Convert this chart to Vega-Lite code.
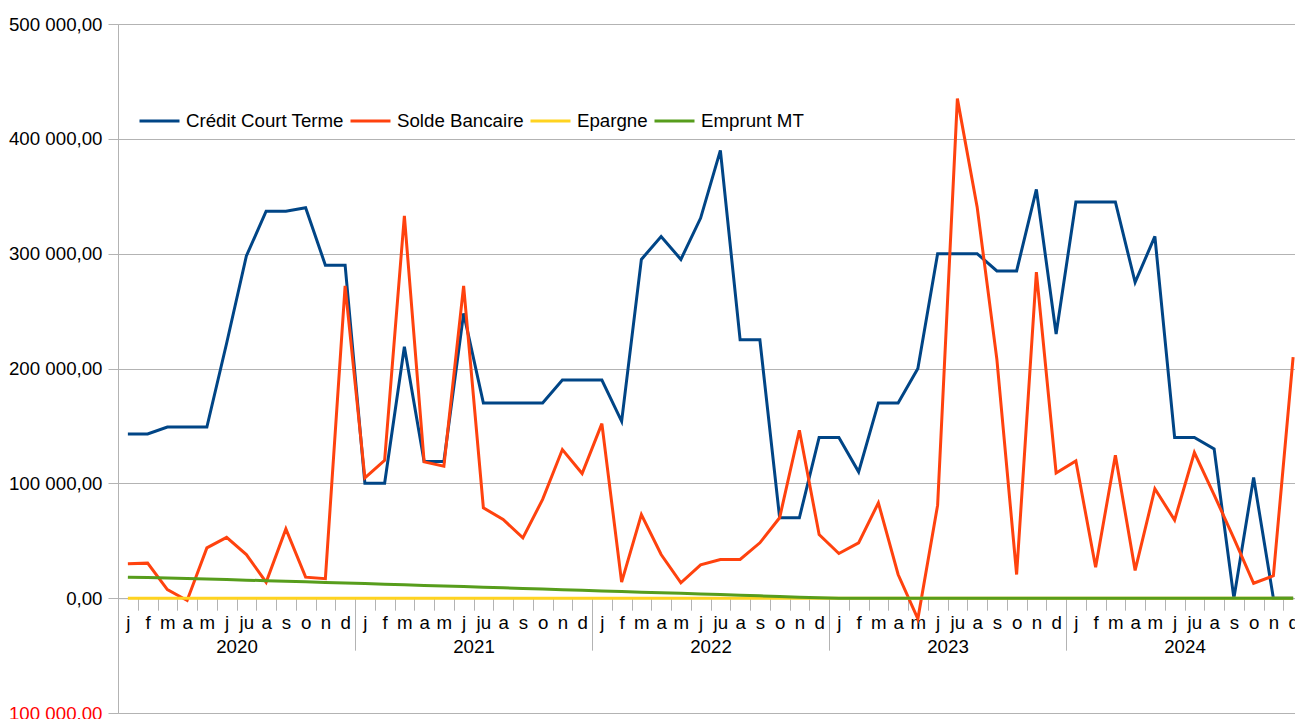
{
  "$schema": "https://vega.github.io/schema/vega-lite/v6.json",
  "width": 1177,
  "height": 689,
  "autosize": {"type": "none"},
  "padding": {"left": 118, "top": 24, "right": 0, "bottom": 6},
  "background": "white",
  "config": {"font": "Liberation Sans", "view": {"stroke": null}},
  "data": {"values": [
    {"n":1,"credit":143000,"solde":30000,"epargne":0,"emprunt":18300},
    {"n":2,"credit":143000,"solde":30500,"epargne":0,"emprunt":17900},
    {"n":3,"credit":149000,"solde":7500,"epargne":0,"emprunt":17500},
    {"n":4,"credit":149000,"solde":-2000,"epargne":0,"emprunt":17100},
    {"n":5,"credit":149000,"solde":43800,"epargne":0,"emprunt":16600},
    {"n":6,"credit":222000,"solde":53000,"epargne":0,"emprunt":16200},
    {"n":7,"credit":298000,"solde":38000,"epargne":0,"emprunt":15700},
    {"n":8,"credit":337000,"solde":13900,"epargne":0,"emprunt":15200},
    {"n":9,"credit":337000,"solde":60300,"epargne":0,"emprunt":14700},
    {"n":10,"credit":340000,"solde":18300,"epargne":0,"emprunt":14200},
    {"n":11,"credit":290000,"solde":17000,"epargne":0,"emprunt":13700},
    {"n":12,"credit":290000,"solde":272000,"epargne":0,"emprunt":13200},
    {"n":13,"credit":100000,"solde":104800,"epargne":0,"emprunt":12700},
    {"n":14,"credit":100000,"solde":120000,"epargne":0,"emprunt":12200},
    {"n":15,"credit":219000,"solde":333000,"epargne":0,"emprunt":11600},
    {"n":16,"credit":119000,"solde":118700,"epargne":0,"emprunt":11100},
    {"n":17,"credit":119000,"solde":115000,"epargne":0,"emprunt":10600},
    {"n":18,"credit":248000,"solde":272000,"epargne":0,"emprunt":10100},
    {"n":19,"credit":170000,"solde":78700,"epargne":0,"emprunt":9500},
    {"n":20,"credit":170000,"solde":68500,"epargne":0,"emprunt":9000},
    {"n":21,"credit":170000,"solde":52500,"epargne":0,"emprunt":8400},
    {"n":22,"credit":170000,"solde":86000,"epargne":0,"emprunt":7900},
    {"n":23,"credit":190000,"solde":129400,"epargne":0,"emprunt":7400},
    {"n":24,"credit":190000,"solde":108500,"epargne":0,"emprunt":6800},
    {"n":25,"credit":190000,"solde":152000,"epargne":0,"emprunt":6300},
    {"n":26,"credit":154000,"solde":14000,"epargne":0,"emprunt":5800},
    {"n":27,"credit":295000,"solde":72800,"epargne":0,"emprunt":5200},
    {"n":28,"credit":315000,"solde":38000,"epargne":0,"emprunt":4700},
    {"n":29,"credit":295000,"solde":13400,"epargne":0,"emprunt":4200},
    {"n":30,"credit":331000,"solde":29000,"epargne":0,"emprunt":3600},
    {"n":31,"credit":390000,"solde":33700,"epargne":0,"emprunt":3100},
    {"n":32,"credit":225000,"solde":33700,"epargne":0,"emprunt":2500},
    {"n":33,"credit":225000,"solde":48200,"epargne":0,"emprunt":2000},
    {"n":34,"credit":70000,"solde":70000,"epargne":0,"emprunt":1400},
    {"n":35,"credit":70000,"solde":146200,"epargne":0,"emprunt":800},
    {"n":36,"credit":140000,"solde":55400,"epargne":0,"emprunt":300},
    {"n":37,"credit":140000,"solde":38900,"epargne":0,"emprunt":0},
    {"n":38,"credit":110000,"solde":48200,"epargne":0,"emprunt":0},
    {"n":39,"credit":170000,"solde":83000,"epargne":0,"emprunt":0},
    {"n":40,"credit":170000,"solde":20600,"epargne":0,"emprunt":0},
    {"n":41,"credit":200000,"solde":-18000,"epargne":0,"emprunt":0},
    {"n":42,"credit":300000,"solde":81000,"epargne":0,"emprunt":0},
    {"n":43,"credit":300000,"solde":435000,"epargne":0,"emprunt":0},
    {"n":44,"credit":300000,"solde":340700,"epargne":0,"emprunt":0},
    {"n":45,"credit":285000,"solde":208000,"epargne":0,"emprunt":0},
    {"n":46,"credit":285000,"solde":20600,"epargne":0,"emprunt":0},
    {"n":47,"credit":356000,"solde":284000,"epargne":0,"emprunt":0},
    {"n":48,"credit":230000,"solde":109000,"epargne":0,"emprunt":0},
    {"n":49,"credit":345000,"solde":119500,"epargne":0,"emprunt":0},
    {"n":50,"credit":345000,"solde":27000,"epargne":0,"emprunt":0},
    {"n":51,"credit":345000,"solde":124500,"epargne":0,"emprunt":0},
    {"n":52,"credit":275000,"solde":24200,"epargne":0,"emprunt":0},
    {"n":53,"credit":315000,"solde":95300,"epargne":0,"emprunt":0},
    {"n":54,"credit":140000,"solde":68000,"epargne":0,"emprunt":0},
    {"n":55,"credit":140000,"solde":126800,"epargne":0,"emprunt":0},
    {"n":56,"credit":130000,"solde":90000,"epargne":0,"emprunt":0},
    {"n":57,"credit":0,"solde":52000,"epargne":0,"emprunt":0},
    {"n":58,"credit":105000,"solde":13000,"epargne":0,"emprunt":0},
    {"n":59,"credit":0,"solde":19500,"epargne":0,"emprunt":0},
    {"n":60,"credit":0,"solde":210000,"epargne":0,"emprunt":0}
  ]},
  "layer": [
    {
      "mark": {"type": "line", "strokeWidth": 3, "clip": true},
      "encoding": {
        "x": {"field": "n", "type": "quantitative",
          "scale": {"domain": [0.5, 60.0949], "nice": false, "zero": false},
          "axis": {"orient": "bottom", "offset": -114.83, "title": null,
            "values": [1,2,3,4,5,6,7,8,9,10,11,12,13,14,15,16,17,18,19,20,21,22,23,24,25,26,27,28,29,30,31,32,33,34,35,36,37,38,39,40,41,42,43,44,45,46,47,48,49,50,51,52,53,54,55,56,57,58,59,60],
            "labelExpr": "['j','f','m','a','m','j','ju','a','s','o','n','d'][(datum.value - 1) % 12]",
            "ticks": false, "domain": true, "domainColor": "#b3b3b3", "grid": false,
            "labelFontSize": 18.7, "labelPadding": 15, "labelColor": "#000000",
            "labelBound": false, "labelFlush": false, "labelOverlap": false}},
        "y": {"field": "credit", "type": "quantitative",
          "scale": {"domain": [-100000, 500000], "nice": false, "zero": false},
          "axis": {"orient": "left", "title": null, "values": [0, 100000, 200000, 300000, 400000, 500000],
            "labelExpr": "datum.value == 0 ? '0,00' : abs(datum.value / 1000) + ' 000,00'",
            "labelColor": "#000000",
            "grid": true, "gridColor": "#b3b3b3", "domainColor": "#b3b3b3", "tickColor": "#b3b3b3",
            "tickSize": 10, "labelPadding": 6, "labelFontSize": 18.7,
            "labelFlush": false, "labelOverlap": false, "labelBound": false}},
        "color": {"datum": "Crédit Court Terme", "type": "nominal",
          "scale": {"domain": ["Crédit Court Terme", "Solde Bancaire", "Epargne", "Emprunt MT"],
                    "range": ["#004586", "#ff420e", "#ffd320", "#579d1c"]},
          "legend": {"orient": "none", "legendX": 20, "legendY": 75, "direction": "horizontal",
            "title": null, "symbolType": "stroke", "symbolSize": 1600, "symbolStrokeWidth": 3,
            "labelFontSize": 18.7, "labelColor": "#000000", "labelOffset": 5, "columnPadding": 0,
            "padding": 0, "labelLimit": 400}}
      }
    },
    {
      "mark": {"type": "line", "strokeWidth": 3, "clip": true},
      "encoding": {
        "x": {"field": "n", "type": "quantitative",
          "scale": {"domain": [0.5, 60.0949], "nice": false, "zero": false},
          "axis": {"orient": "bottom", "offset": -114.83, "title": null,
            "values": [6.5, 18.5, 30.5, 42.5, 54.5],
            "labelExpr": "'' + (2020 + floor(datum.value / 12))",
            "ticks": false, "domain": false, "grid": false,
            "labelFontSize": 18.7, "labelPadding": 39, "labelColor": "#000000",
            "labelBound": false, "labelFlush": false, "labelOverlap": false}},
        "y": {"field": "solde", "type": "quantitative",
          "scale": {"domain": [-100000, 500000], "nice": false, "zero": false},
          "axis": {"orient": "left", "title": null, "values": [-100000],
            "labelExpr": "'100 000,00'",
            "labelColor": "#ff0000",
            "grid": true, "gridColor": "#b3b3b3", "domain": true, "domainColor": "#b3b3b3", "tickColor": "#b3b3b3",
            "tickSize": 10, "labelPadding": 6, "labelFontSize": 18.7,
            "labelFlush": false, "labelOverlap": false, "labelBound": false}},
        "color": {"datum": "Solde Bancaire", "type": "nominal",
          "scale": {"domain": ["Crédit Court Terme", "Solde Bancaire", "Epargne", "Emprunt MT"],
                    "range": ["#004586", "#ff420e", "#ffd320", "#579d1c"]}}
      }
    },
    {
      "mark": {"type": "line", "strokeWidth": 3, "clip": true},
      "encoding": {
        "x": {"field": "n", "type": "quantitative",
          "scale": {"domain": [0.5, 60.0949], "nice": false, "zero": false},
          "axis": {"orient": "bottom", "offset": -114.83, "title": null,
            "values": [12.5, 24.5, 36.5, 48.5],
            "labels": false, "ticks": true, "tickSize": 52, "tickColor": "#b3b3b3",
            "domain": false, "grid": false}},
        "y": {"field": "epargne", "type": "quantitative",
          "scale": {"domain": [-100000, 500000], "nice": false, "zero": false}, "axis": null},
        "color": {"datum": "Epargne", "type": "nominal",
          "scale": {"domain": ["Crédit Court Terme", "Solde Bancaire", "Epargne", "Emprunt MT"],
                    "range": ["#004586", "#ff420e", "#ffd320", "#579d1c"]}}
      }
    },
    {
      "mark": {"type": "line", "strokeWidth": 3, "clip": true},
      "encoding": {
        "x": {"field": "n", "type": "quantitative",
          "scale": {"domain": [0.5, 60.0949], "nice": false, "zero": false},
          "axis": {"orient": "bottom", "offset": -114.83, "title": null,
            "values": [1.5,2.5,3.5,4.5,5.5,6.5,7.5,8.5,9.5,10.5,11.5,13.5,14.5,15.5,16.5,17.5,18.5,19.5,20.5,21.5,22.5,23.5,25.5,26.5,27.5,28.5,29.5,30.5,31.5,32.5,33.5,34.5,35.5,37.5,38.5,39.5,40.5,41.5,42.5,43.5,44.5,45.5,46.5,47.5,49.5,50.5,51.5,52.5,53.5,54.5,55.5,56.5,57.5,58.5,59.5],
            "labels": false, "ticks": true, "tickSize": 12, "tickColor": "#b3b3b3",
            "domain": false, "grid": false}},
        "y": {"field": "emprunt", "type": "quantitative",
          "scale": {"domain": [-100000, 500000], "nice": false, "zero": false}, "axis": null},
        "color": {"datum": "Emprunt MT", "type": "nominal",
          "scale": {"domain": ["Crédit Court Terme", "Solde Bancaire", "Epargne", "Emprunt MT"],
                    "range": ["#004586", "#ff420e", "#ffd320", "#579d1c"]}}
      }
    }
  ],
  "resolve": {"axis": {"x": "independent", "y": "independent"}}
}
